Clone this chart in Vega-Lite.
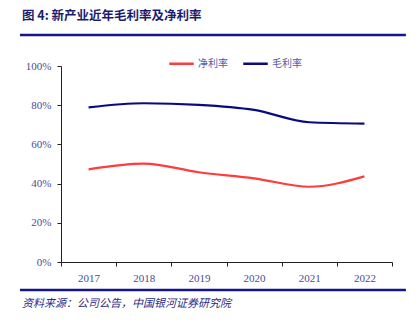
{
  "$schema": "https://vega.github.io/schema/vega-lite/v6.json",
  "width": 331,
  "height": 196,
  "autosize": "none",
  "padding": {"left": 61, "top": 66, "right": 24, "bottom": 62},
  "background": "white",
  "config": {
    "view": {"stroke": null},
    "axisY": {
      "title": null, "values": [0, 20, 40, 60, 80, 100], "grid": false,
      "labelExpr": "datum.value + '%'", "labelOverlap": false,
      "domainColor": "#222222", "tickColor": "#222222", "tickSize": 4,
      "labelFont": "Liberation Serif", "labelFontSize": 11, "labelColor": "#4a4a9a",
      "labelPadding": 6
    }
  },
  "resolve": {"scale": {"x": "independent"}},
  "layer": [
    {
      "data": {"values": [
        {"year": "2017", "metric": "毛利率", "value": 78.9},
        {"year": "2018", "metric": "毛利率", "value": 81.0},
        {"year": "2019", "metric": "毛利率", "value": 80.2},
        {"year": "2020", "metric": "毛利率", "value": 77.6},
        {"year": "2021", "metric": "毛利率", "value": 71.3},
        {"year": "2022", "metric": "毛利率", "value": 70.6},
        {"year": "2017", "metric": "净利率", "value": 47.3},
        {"year": "2018", "metric": "净利率", "value": 50.2},
        {"year": "2019", "metric": "净利率", "value": 45.8},
        {"year": "2020", "metric": "净利率", "value": 42.7},
        {"year": "2021", "metric": "净利率", "value": 38.4},
        {"year": "2022", "metric": "净利率", "value": 43.7}
      ]},
      "mark": {"type": "line", "interpolate": "monotone", "strokeWidth": 2.2},
      "encoding": {
        "x": {
          "field": "year", "type": "ordinal",
          "scale": {"type": "band", "paddingInner": 0, "paddingOuter": 0},
          "axis": {
            "title": null, "labelAngle": 0, "tickBand": "extent",
            "domainColor": "#222222", "tickColor": "#222222", "tickSize": 4,
            "labelFont": "Liberation Serif", "labelFontSize": 11, "labelColor": "#4a4a9a",
            "labelPadding": 6
          }
        },
        "y": {
          "field": "value", "type": "quantitative",
          "scale": {"domain": [0, 100], "nice": false}
        },
        "color": {
          "field": "metric", "type": "nominal",
          "scale": {"domain": ["净利率", "毛利率"], "range": ["#ff3b3b", "#0a0a80"]},
          "legend": {
            "title": null, "orient": "none", "legendX": 107, "legendY": -16,
            "direction": "horizontal", "symbolType": "stroke", "symbolSize": 600,
            "symbolStrokeWidth": 2.5, "labelFont": "Noto Sans CJK SC", "labelFontSize": 10,
            "labelColor": "#5a5aa0", "columnPadding": 10, "labelOffset": 3
          }
        }
      }
    },
    {
      "data": {"values": [
        {"x": -0.124, "x2": 1.042, "y": 115.8},
        {"x": -0.124, "x2": 1.042, "y": -14.3}
      ]},
      "mark": {"type": "rule", "color": "#15158a", "strokeWidth": 2.5},
      "encoding": {
        "x": {"field": "x", "type": "quantitative", "scale": {"domain": [0, 1], "nice": false, "zero": false}, "axis": null},
        "x2": {"field": "x2"},
        "y": {"field": "y", "type": "quantitative", "scale": {"domain": [0, 100], "nice": false}}
      }
    },
    {
      "data": {"values": [
        {"x": -0.118, "y": 125.5, "label": "图 4:  新产业近年毛利率及净利率"}
      ]},
      "mark": {"type": "text", "align": "left", "baseline": "middle", "font": "Noto Sans CJK SC", "fontSize": 12.5, "fontWeight": "bold", "color": "#1c1c6e"},
      "encoding": {
        "x": {"field": "x", "type": "quantitative", "scale": {"domain": [0, 1], "nice": false, "zero": false}, "axis": null},
        "y": {"field": "y", "type": "quantitative", "scale": {"domain": [0, 100], "nice": false}},
        "text": {"field": "label"}
      }
    },
    {
      "data": {"values": [
        {"x": -0.118, "y": -21.4, "label": "资料来源：公司公告，中国银河证券研究院"}
      ]},
      "mark": {"type": "text", "align": "left", "baseline": "middle", "font": "Noto Sans CJK SC", "fontSize": 11, "fontStyle": "italic", "color": "#2a2a8a"},
      "encoding": {
        "x": {"field": "x", "type": "quantitative", "scale": {"domain": [0, 1], "nice": false, "zero": false}, "axis": null},
        "y": {"field": "y", "type": "quantitative", "scale": {"domain": [0, 100], "nice": false}},
        "text": {"field": "label"}
      }
    }
  ]
}
